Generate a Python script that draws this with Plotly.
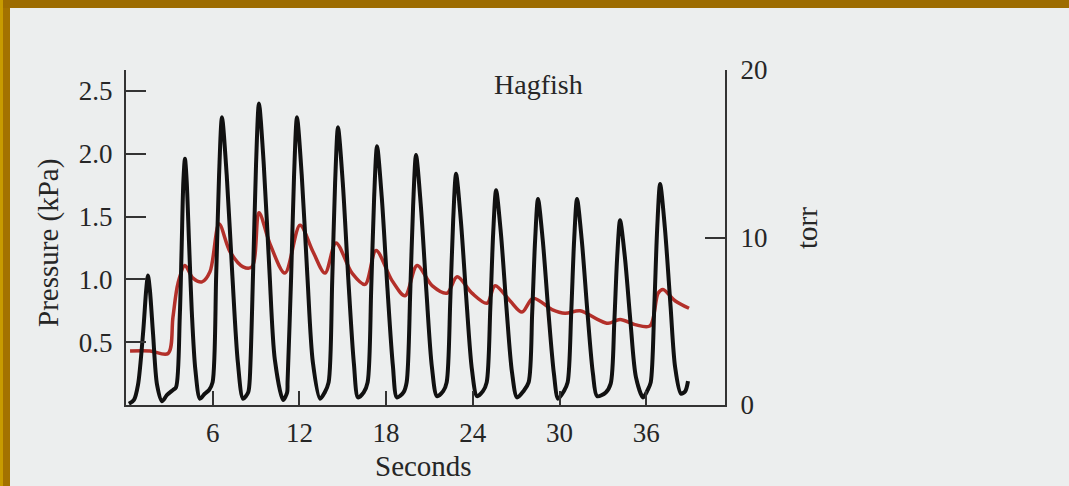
import plotly.graph_objects as go

# ---------------- data ----------------
# Black trace: pulsatile pressure (kPa) vs time (s)
black_t = [
    0.20, 0.55, 0.83, 1.18, 1.40, 1.52, 1.65, 1.87, 2.15, 2.49, 2.84, 3.25,
    3.46, 3.72, 3.85, 3.97, 4.08, 4.20, 4.36, 4.55, 4.80, 5.12, 5.45, 5.75,
    5.99, 6.24, 6.44, 6.64, 6.97, 7.36, 7.74, 8.10, 8.45,
    8.55, 8.80, 9.00, 9.20, 9.53, 9.92, 10.30, 10.87, 11.15,
    11.18, 11.43, 11.63, 11.83, 12.16, 12.55, 12.93, 13.43, 13.75,
    14.02, 14.27, 14.47, 14.67, 15.00, 15.39, 15.77, 16.06, 16.45,
    16.72, 16.97, 17.17, 17.37, 17.70, 18.09, 18.47, 18.75, 19.20,
    19.42, 19.67, 19.87, 20.07, 20.40, 20.79, 21.17, 21.52, 21.95,
    22.19, 22.44, 22.64, 22.84, 23.17, 23.56, 23.94, 24.29, 24.70,
    24.96, 25.21, 25.41, 25.61, 25.94, 26.33, 26.71, 27.06, 27.50,
    27.86, 28.11, 28.31, 28.51, 28.84, 29.23, 29.61, 29.90, 30.30,
    30.56, 30.81, 31.01, 31.21, 31.54, 31.93, 32.31, 32.60, 33.20,
    33.54, 33.79, 33.99, 34.19, 34.52, 34.91, 35.29, 35.78, 36.10,
    36.31, 36.56, 36.76, 36.96, 37.29, 37.68, 38.00, 38.40, 38.70, 38.89,
]
black_kpa = [
    0.01, 0.04, 0.16, 0.57, 0.92, 1.03, 0.92, 0.57, 0.16, 0.03, 0.08, 0.12,
    0.14, 0.70, 1.25, 1.78, 1.96, 1.78, 1.30, 0.75, 0.28, 0.05, 0.09, 0.12,
    0.18, 1.03, 1.83, 2.29, 1.83, 1.03, 0.34, 0.05, 0.10,
    0.18, 1.08, 1.92, 2.40, 1.92, 1.08, 0.36, 0.04, 0.10,
    0.18, 1.03, 1.83, 2.29, 1.83, 1.03, 0.34, 0.05, 0.10,
    0.18, 0.99, 1.77, 2.21, 1.77, 0.99, 0.33, 0.06, 0.10,
    0.18, 0.93, 1.65, 2.06, 1.65, 0.93, 0.31, 0.06, 0.10,
    0.18, 0.90, 1.59, 1.99, 1.59, 0.90, 0.30, 0.07, 0.11,
    0.18, 0.83, 1.47, 1.84, 1.47, 0.83, 0.28, 0.07, 0.11,
    0.18, 0.77, 1.37, 1.71, 1.37, 0.77, 0.26, 0.06, 0.11,
    0.18, 0.74, 1.31, 1.64, 1.31, 0.74, 0.25, 0.05, 0.11,
    0.18, 0.74, 1.31, 1.64, 1.31, 0.74, 0.25, 0.07, 0.10,
    0.17, 0.66, 1.18, 1.47, 1.18, 0.66, 0.22, 0.06, 0.12,
    0.18, 0.79, 1.41, 1.76, 1.41, 0.79, 0.30, 0.09, 0.11, 0.19,
]

# Red trace: damped pressure (kPa) vs time (s)
red_t = [
    0.28, 1.66, 2.91, 3.25, 3.60, 4.08, 4.64, 5.26, 5.81, 6.44, 7.20, 8.10,
    8.72, 9.20, 9.97, 11.00, 12.04, 12.94, 13.77, 14.53, 15.64, 16.54, 17.30,
    18.41, 19.31, 20.14, 21.18, 22.21, 22.91, 23.94, 24.98, 25.54, 26.57,
    27.40, 28.17, 29.48, 30.38, 31.42, 32.66, 33.36, 34.19, 35.22, 36.26,
    36.82, 37.16, 37.99, 38.96,
]
red_kpa = [
    0.43, 0.43, 0.41, 0.70, 0.97, 1.11, 1.01, 0.98, 1.06, 1.44, 1.22, 1.10,
    1.10, 1.53, 1.28, 1.05, 1.43, 1.22, 1.05, 1.29, 1.05, 0.96, 1.23,
    0.99, 0.87, 1.11, 0.95, 0.89, 1.02, 0.89, 0.81, 0.95, 0.83,
    0.74, 0.85, 0.76, 0.73, 0.75, 0.68, 0.65, 0.68, 0.64, 0.63,
    0.89, 0.92, 0.83, 0.77,
]

x_ticks = [6, 12, 18, 24, 30, 36]
kpa_ticks = [0.5, 1.0, 1.5, 2.0, 2.5]
kpa_labels = ["0.5", "1.0", "1.5", "2.0", "2.5"]
torr_ticks = [0, 10, 20]
torr_labels = ["0", "10", "20"]

TORR_PER_KPA = 7.5
TORR_MAX = 20
X_MAX = 41.45

# ---------------- layout geometry (pixels) ----------------
W, H = 1069, 486
L, R, T, B = 126, 725, 70, 405      # plot-area box in pixels
PW, PH = R - L, B - T


def px(xpix):
    return (xpix - L) / PW


def py(ypix):
    return (B - ypix) / PH


FONT = "Liberation Serif"
INK = "#262626"
AXC = "#333333"
BG = "#eceeee"

fig = go.Figure()

fig.add_trace(go.Scatter(
    x=red_t, y=red_kpa, mode="lines",
    line=dict(color="#b3302a", width=3.5, shape="spline", smoothing=0.9),
    hoverinfo="skip", showlegend=False,
))
fig.add_trace(go.Scatter(
    x=black_t, y=black_kpa, mode="lines",
    line=dict(color="#111111", width=4, shape="spline", smoothing=0.8),
    hoverinfo="skip", showlegend=False,
))
# invisible trace to activate the right (torr) axis
fig.add_trace(go.Scatter(
    x=[None], y=[None], yaxis="y2", mode="lines",
    hoverinfo="skip", showlegend=False,
))

fig.update_layout(
    width=W, height=H,
    margin=dict(l=L, r=W - R, t=T, b=H - B, pad=0),
    paper_bgcolor=BG, plot_bgcolor="rgba(0,0,0,0)",
    font=dict(family=FONT, color=INK, size=27),
    xaxis=dict(
        range=[0, X_MAX], tickmode="array", tickvals=x_ticks,
        ticktext=[str(v) for v in x_ticks],
        ticks="inside", ticklen=14, tickwidth=2, tickcolor=AXC,
        showline=True, linecolor=AXC, linewidth=2,
        showgrid=False, zeroline=False, ticklabelstandoff=3,
        tickfont=dict(family=FONT, size=27, color=INK),
    ),
    yaxis=dict(
        range=[0, TORR_MAX / TORR_PER_KPA], tickmode="array",
        tickvals=kpa_ticks, ticktext=kpa_labels,
        ticks="inside", ticklen=20, tickwidth=2, tickcolor=AXC,
        showline=True, linecolor=AXC, linewidth=2,
        showgrid=False, zeroline=False, ticklabelstandoff=6,
        tickfont=dict(family=FONT, size=27, color=INK),
    ),
    yaxis2=dict(
        range=[0, TORR_MAX], overlaying="y", side="right",
        tickmode="array", tickvals=torr_ticks, ticktext=torr_labels,
        ticks="inside", ticklen=20, tickwidth=2, tickcolor=AXC,
        showline=True, linecolor=AXC, linewidth=2,
        showgrid=False, zeroline=False, ticklabelstandoff=8,
        tickfont=dict(family=FONT, size=27, color=INK),
    ),
    annotations=[
        dict(text="Pressure (kPa)", xref="paper", yref="paper",
             x=px(48), y=py(243), textangle=-90, showarrow=False,
             font=dict(family=FONT, size=29, color=INK),
             xanchor="center", yanchor="middle"),
        dict(text="torr", xref="paper", yref="paper",
             x=px(807), y=py(228), textangle=-90, showarrow=False,
             font=dict(family=FONT, size=29, color=INK),
             xanchor="center", yanchor="middle"),
        dict(text="Seconds", xref="paper", yref="paper",
             x=px(423), y=py(466), showarrow=False,
             font=dict(family=FONT, size=29, color=INK),
             xanchor="center", yanchor="middle"),
        dict(text="Hagfish", xref="paper", yref="paper",
             x=px(538), y=py(84), showarrow=False,
             font=dict(family=FONT, size=28, color=INK),
             xanchor="center", yanchor="middle"),
    ],
    shapes=[
        # gold frame (top and left edges of the scanned slide)
        dict(type="rect", xref="paper", yref="paper", layer="above",
             x0=px(0), x1=px(W), y0=py(0), y1=py(8),
             fillcolor="#9d6c00", line=dict(width=0)),
        dict(type="rect", xref="paper", yref="paper", layer="above",
             x0=px(3), x1=px(10), y0=py(H), y1=py(8),
             fillcolor="#a37200", line=dict(width=0)),
        dict(type="rect", xref="paper", yref="paper", layer="above",
             x0=px(0), x1=px(3), y0=py(H), y1=py(0),
             fillcolor="#c89b00", line=dict(width=0)),
    ],
)

fig.write_html(
    "out.html",
    config={"displayModeBar": False},
    post_script="document.body.style.margin='0';"
                "document.body.style.overflow='hidden';",
)
